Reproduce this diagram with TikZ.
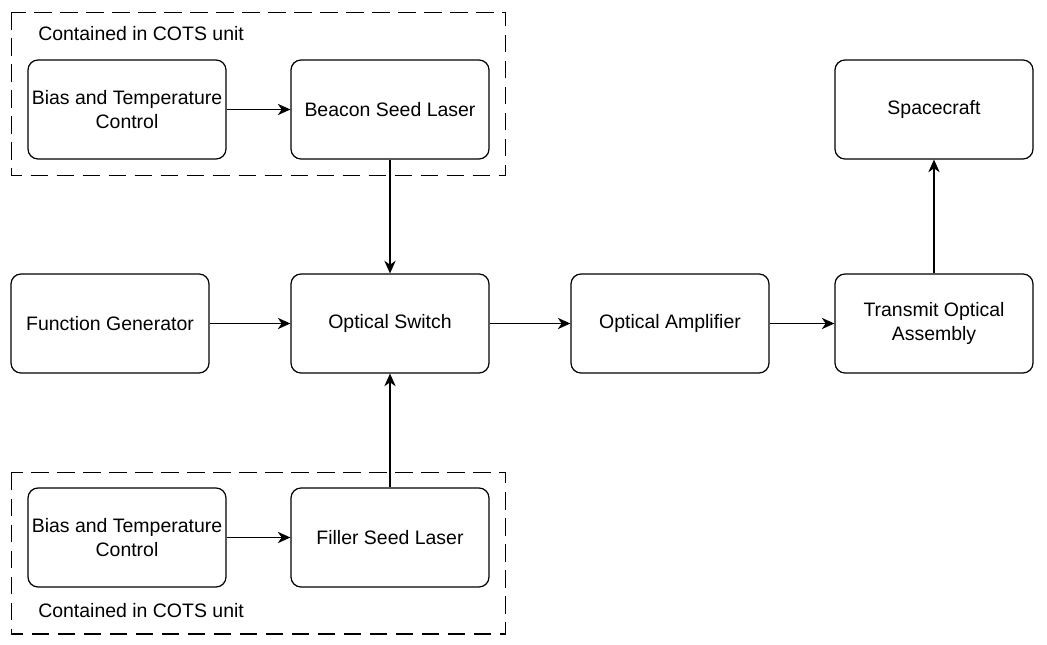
\documentclass[tikz,border=0pt]{standalone}
\usepackage{fontspec}
\setmainfont{Liberation Sans}
\usepackage{tikz}
\usetikzlibrary{arrows.meta}

\begin{document}
\begin{tikzpicture}[
  x=0.75pt, y=-0.75pt,
  blk/.style={rectangle, draw, line width=0.9pt, rounded corners=7.5pt,
              minimum width=148.5pt, minimum height=74.25pt,
              align=center, inner sep=0pt,
              font=\fontsize{14.6}{18}\selectfont},
  cots/.style={draw, line width=0.9pt, dash pattern=on 13pt off 6.5pt},
  lbl/.style={anchor=west, inner sep=0pt, font=\fontsize{14.6}{18}\selectfont},
  arr/.style={-{Stealth[length=9.5pt, width=8.5pt, inset=3pt]}, line width=0.9pt}
]
\useasboundingbox (0,0) rectangle (1047,645);

% COTS units
\draw[cots] (11.5,12.5) rectangle (505.5,175.5);
\draw[cots] (11.5,472.5) rectangle (505.5,634);
\node[lbl] (cotsa) at (38,34) {Contained in COTS unit};
\node[lbl] (cotsb) at (38,611) {Contained in COTS unit};

\node[blk] (bta) at (127,109.5) {Bias and Temperature\\Control};
\node[blk] (bsl) at (390,109.5) {Beacon Seed Laser};
\node[blk] (sc)  at (934,109.5) {Spacecraft};

\node[blk] (fg)  at (110,323.5) {Function Generator};
\node[blk] (os)  at (390,323.5) {Optical Switch};
\node[blk] (oa)  at (670,323.5) {Optical Amplifier};
\node[blk] (toa) at (934,323.5) {Transmit Optical\\Assembly};

\node[blk] (btb) at (127,537.5) {Bias and Temperature\\Control};
\node[blk] (fsl) at (390,537.5) {Filler Seed Laser};

\draw[arr] (bta) -- (bsl);
\draw[arr] (btb) -- (fsl);
\draw[arr] (bsl) -- (os);
\draw[arr] (fsl) -- (os);
\draw[arr] (fg) -- (os);
\draw[arr] (os) -- (oa);
\draw[arr] (oa) -- (toa);
\draw[arr] (toa) -- (sc);
\end{tikzpicture}
\end{document}
